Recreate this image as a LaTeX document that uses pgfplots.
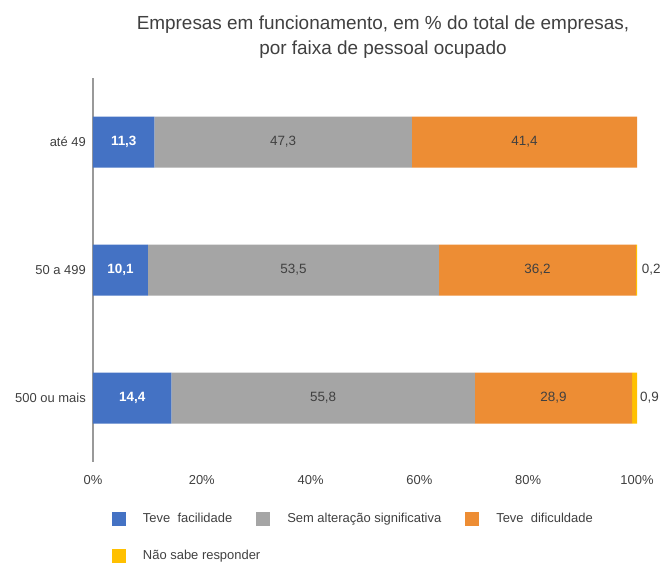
\documentclass[border=0pt]{standalone}
\usepackage{fontspec}
\setmainfont{Liberation Sans}
\usepackage{pgfplots}
\pgfplotsset{compat=1.18}

\definecolor{cblue}{HTML}{4472C4}
\definecolor{cgray}{HTML}{A5A5A5}
\definecolor{corange}{HTML}{ED8D34}
\definecolor{cyellow}{HTML}{FFC000}
\definecolor{txt}{HTML}{404040}

\pgfplotsset{
  sqlegend/.style={legend image code/.code={\fill[##1] (0bp,-7bp) rectangle (14bp,7bp);}},
  numlabel/.style={
    visualization depends on=rawx \as \rawx,
    nodes near coords={\ifdim\rawx pt<0.05pt\else\pgfmathprintnumber[fixed,fixed zerofill,precision=1,use comma,assume math mode=true]{\rawx}\fi},
  },
}

\begin{document}
\begin{tikzpicture}
\path[use as bounding box,fill=white] (-93bp,-112bp) rectangle (571bp,462bp);

\begin{axis}[
  width=544bp, height=384bp, scale only axis,
  clip=false,
  xbar stacked, bar width=51bp,
  xmin=0, xmax=100, ymin=-0.5, ymax=2.5,
  y dir=reverse,
  ytick={0,1,2},
  yticklabels={até 49, 50 a 499, 500 ou mais},
  xtick={0,20,40,60,80,100},
  xticklabel={\pgfmathprintnumber[fixed,precision=0,assume math mode=true]{\tick}\%},
  major tick length=0pt,
  axis lines*=left,
  x axis line style={draw=none},
  y axis line style={draw=gray!80, line width=1.2bp},
  tick label style={font=\fontsize{13}{15}\selectfont, text=txt},
  xticklabel style={anchor=center, yshift=-18bp},
  yticklabel style={anchor=east, inner sep=0pt, xshift=-7bp},
  title={Empresas em funcionamento, em \% do total de empresas,\\por faixa de pessoal ocupado},
  title style={at={(0.533,1.0912)}, anchor=center, align=center,
    font=\fontsize{19}{25}\selectfont, text=txt},
  sqlegend,
  legend columns=3,
  legend style={draw=none, fill=none, inner sep=0pt, outer sep=0pt,
    at={(0.0349,-0.1484)}, anchor=west,
    font=\fontsize{13}{15}\selectfont, text=txt,
    nodes={inner sep=0pt},
    /tikz/every odd column/.append style={column sep=17bp},
    /tikz/every even column/.append style={column sep=24bp}},
  every node near coord/.append style={font=\fontsize{13.5}{15}\selectfont},
]
\addplot[fill=cblue, draw=none, numlabel,
  every node near coord/.append style={anchor=center, text=white, font=\fontsize{13.5}{15}\selectfont\bfseries}]
  coordinates {(11.3,0) (10.1,1) (14.4,2)};
\addlegendentry{Teve~ facilidade}
\addplot[fill=cgray, draw=none, numlabel,
  every node near coord/.append style={anchor=center, text=txt}]
  coordinates {(47.3,0) (53.5,1) (55.8,2)};
\addlegendentry{Sem alteração significativa}
\addplot[fill=corange, draw=none, numlabel,
  every node near coord/.append style={anchor=center, text=txt}]
  coordinates {(41.4,0) (36.2,1) (28.9,2)};
\addlegendentry{Teve~ dificuldade}
\addplot[fill=cyellow, draw=none, numlabel, forget plot,
  every node near coord/.append style={anchor=west, text=txt, xshift=2bp}]
  coordinates {(0,0) (0.2,1) (0.9,2)};
\end{axis}

\begin{axis}[
  width=544bp, height=384bp, scale only axis,
  hide axis, xmin=0, xmax=1, ymin=0, ymax=1,
  sqlegend,
  legend style={draw=none, fill=none, inner sep=0pt, outer sep=0pt,
    at={(0.0349,-0.2448)}, anchor=west,
    font=\fontsize{13}{15}\selectfont, text=txt,
    nodes={inner sep=0pt},
    /tikz/every odd column/.append style={column sep=17bp}},
]
\addlegendimage{fill=cyellow, draw=none}
\addlegendentry{Não sabe responder}
\end{axis}
\end{tikzpicture}
\end{document}
